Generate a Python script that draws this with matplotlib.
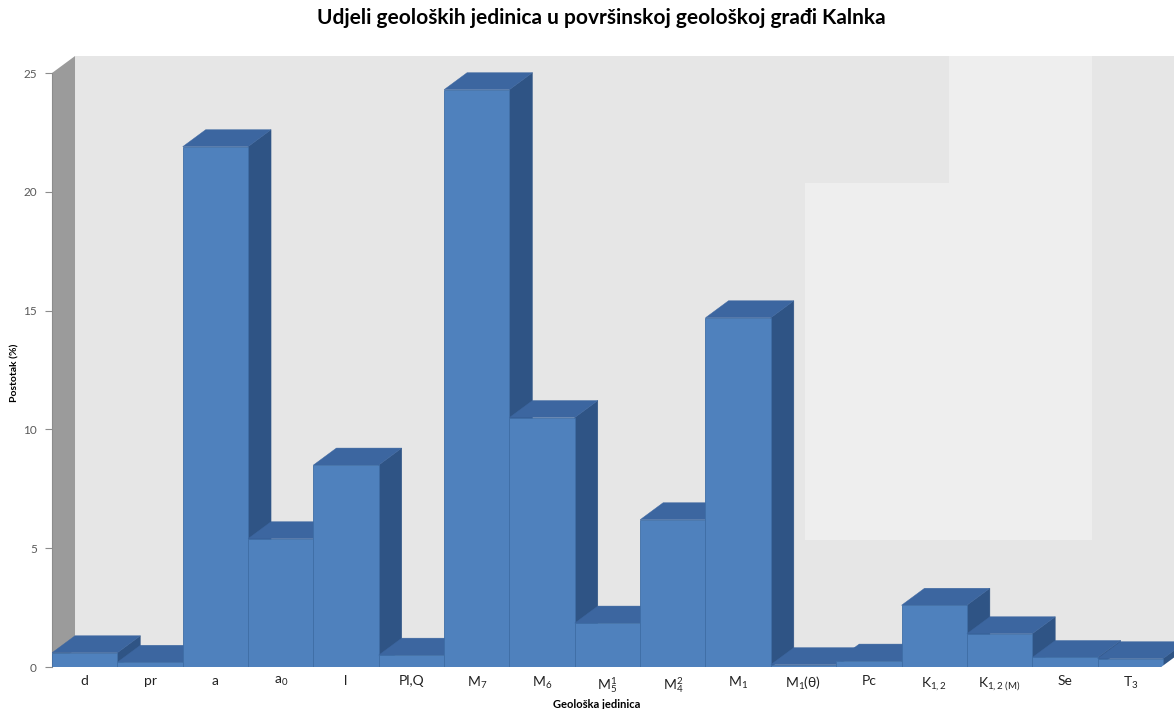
import matplotlib
matplotlib.use("Agg")
import matplotlib.pyplot as plt
from matplotlib.patches import Polygon, Rectangle

plt.rcParams['font.family'] = ['Lato', 'DejaVu Sans']
plt.rcParams['mathtext.fontset'] = 'custom'
plt.rcParams['mathtext.rm'] = 'Lato'
plt.rcParams['mathtext.it'] = 'Lato:italic'
plt.rcParams['mathtext.bf'] = 'Lato:bold'

# ---- data ----
categories = ['d', 'pr', 'a', 'a$_0$', 'l', 'Pl,Q', 'M$_7$', 'M$_6$', 'M$_5^1$', 'M$_4^2$',
              'M$_1$', 'M$_1$(θ)', 'Pc', 'K$_{1,2}$', r'K$_{1,2\ \mathrm{(M)}}$', 'Se', 'T$_3$']
values = [0.6, 0.2, 21.9, 5.4, 8.5, 0.5, 24.3, 10.5, 1.85, 6.2,
          14.7, 0.1, 0.25, 2.6, 1.4, 0.4, 0.35]
yticks = [0, 5, 10, 15, 20, 25]

title = 'Udjeli geoloških jedinica u površinskoj geološkoj građi Kalnka'
ylabel = 'Postotak (%)'
xlabel = 'Geološka jedinica'

# ---- style ----
W, H = 1174, 709
front_c = '#4f81bd'
top_c = '#3c66a0'
side_c = '#2f5485'
wall_c = '#e6e6e6'
sidewall_c = '#9b9b9b'
dx, dy = 0.352, 0.715   # depth offset in data units

fig = plt.figure(figsize=(W / 100, H / 100), dpi=100)
ax = fig.add_axes([52 / W, (H - 667) / H, 1 - 52 / W, 627 / H])
n = len(values)
xmin, xmax = -0.5, -0.5 + (W - 52) / 65.35
ax.set_xlim(xmin, xmax)
ax.set_ylim(0, 26.39)
ax.set_facecolor('white')

# back wall, side wall, floor
ax.add_patch(Rectangle((xmin + dx, dy), xmax - xmin, 25, facecolor=wall_c, edgecolor='none', zorder=0))
ax.add_patch(Polygon([(xmin, 0), (xmin + dx, dy), (xmin + dx, 25 + dy), (xmin, 25)],
                     closed=True, facecolor=sidewall_c, edgecolor='none', zorder=0.5))
ax.add_patch(Polygon([(xmin, 0), (n - 0.5, 0), (n - 0.5 + dx, dy), (xmin + dx, dy)],
                     closed=True, facecolor='#d6d6d6', edgecolor='none', zorder=0.4))
# lighter background patches seen in the image
for (x0, y0, x1, y1) in [(805, 183, 1092, 540), (949, 56, 1092, 183)]:
    ax.add_patch(Rectangle((x0 / W, 1 - y1 / H), (x1 - x0) / W, (y1 - y0) / H,
                           transform=fig.transFigure, facecolor='#eeeeee',
                           edgecolor='none', zorder=0.3))

# bars: side + top faces, then front via ax.bar
for i, v in enumerate(values):
    z = 2 + i * 0.01
    l, r = i - 0.5, i + 0.5
    ax.add_patch(Polygon([(r, 0), (r + dx, dy), (r + dx, v + dy), (r, v)], closed=True,
                         facecolor=side_c, edgecolor=side_c, lw=0.3, zorder=z))
    ax.add_patch(Polygon([(l, v), (l + dx, v + dy), (r + dx, v + dy), (r, v)], closed=True,
                         facecolor=top_c, edgecolor=top_c, lw=0.3, zorder=z))
    ax.bar(i, v, width=1.0, color=front_c, edgecolor='#3f6ea6', linewidth=0.6, zorder=z + 0.005)

# white edge of the floor at the right end
ax.plot([n - 0.5, n - 0.5 + dx], [0, dy], color='white', lw=1.5, zorder=3, clip_on=False)

# axes styling
for s in ['top', 'right', 'bottom']:
    ax.spines[s].set_visible(False)
ax.spines['left'].set_bounds(0, 25)
ax.spines['left'].set_color('#8c8c8c')
ax.spines['left'].set_linewidth(0.8)
ax.spines['left'].set_zorder(1)
ax.set_yticks(yticks)
ax.tick_params(axis='y', length=5, width=0.8, color='#8c8c8c', labelsize=8.5,
               labelcolor='#595959', pad=6)
ax.set_xticks(range(n))
ax.set_xticklabels(categories, fontsize=10, color='#222222')
ax.tick_params(axis='x', length=0, pad=6)
ax.axhline(0, xmin=0, xmax=(n - 0.5 - xmin) / (xmax - xmin), color='#8c8c8c', lw=0.8, zorder=1)

fig.text(601 / W, 1 - 18 / H, title, ha='center', va='center', fontsize=15, fontweight='bold')
fig.text(15 / W, 1 - 373 / H, ylabel, ha='center', va='center', rotation=90,
         fontsize=7.5, fontweight='bold')
fig.text(597 / W, 1 - 704 / H, xlabel, ha='center', va='center', fontsize=8, fontweight='bold')

fig.savefig('out.png', dpi=100, facecolor='white')
